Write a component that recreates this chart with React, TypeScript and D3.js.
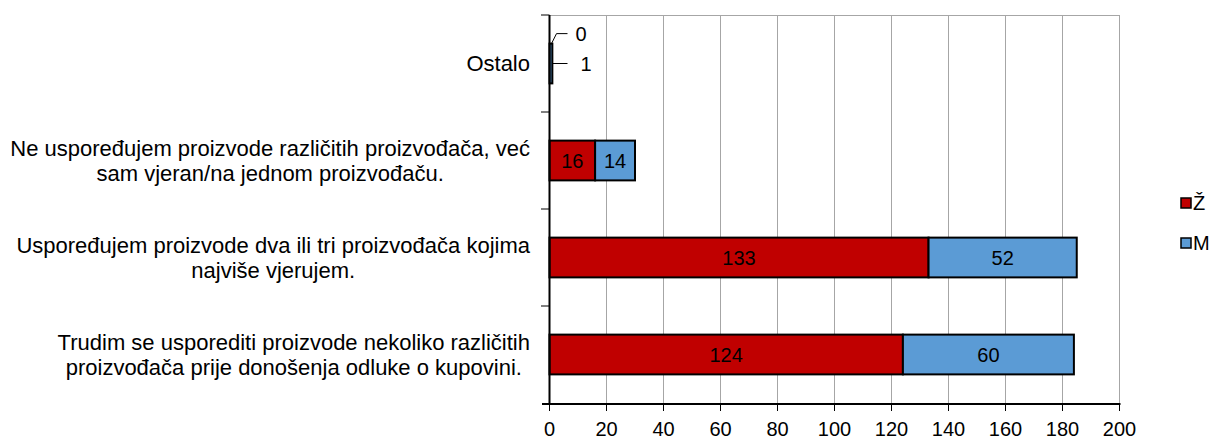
import React, { useEffect, useRef } from "react";
import * as d3 from "d3";

// categories, top to bottom
const categories = ["ostalo", "vjeran", "dvaTri", "nekoliko"];
const categoryLines = [
  ["Ostalo"],
  ["Ne uspoređujem proizvode različitih proizvođača, već", "sam vjeran/na jednom proizvođaču."],
  ["Uspoređujem proizvode dva ili tri proizvođača kojima", "najviše vjerujem."],
  ["Trudim se usporediti proizvode nekoliko različitih", "proizvođača prije donošenja odluke o kupovini."],
];
const zValues = [0, 16, 133, 124];
const mValues = [1, 14, 52, 60];
const seriesNames = ["Ž", "M"];
const xTicks = [0, 20, 40, 60, 80, 100, 120, 140, 160, 180, 200];

const W = 1215;
const H = 439;
const colors = ["#C00000", "#5B9BD5"];
const font = "Arial, 'Liberation Sans', sans-serif";

const App = () => {
  const ref = useRef<SVGSVGElement>(null);

  useEffect(() => {
    const svg = d3.select(ref.current);
    svg.selectAll("*").remove();

    const x = d3.scaleLinear().domain([0, 200]).range([549.5, 1119.5]);
    const y = d3
      .scaleBand()
      .domain(categories)
      .range([15, 403])
      .paddingInner(0.59)
      .paddingOuter(0.295);
    const step = y.step();

    // gridlines
    svg
      .append("g")
      .selectAll("line")
      .data(xTicks.slice(1))
      .join("line")
      .attr("x1", (d) => x(d))
      .attr("x2", (d) => x(d))
      .attr("y1", 15)
      .attr("y2", 403)
      .attr("stroke", "#a6a6a6")
      .attr("stroke-width", 1);

    // top border
    svg
      .append("line")
      .attr("x1", x(0))
      .attr("x2", x(200))
      .attr("y1", 15.5)
      .attr("y2", 15.5)
      .attr("stroke", "#a6a6a6");

    const rows = categories.map((c, i) => ({ c, i, z: zValues[i], m: mValues[i] }));

    // bars
    const g = svg.append("g");
    rows.forEach((r) => {
      const y0 = y(r.c)!;
      const bh = y.bandwidth();
      const segs = [
        { x0: 0, x1: r.z, v: r.z, k: 0 },
        { x0: r.z, x1: r.z + r.m, v: r.m, k: 1 },
      ];
      segs.forEach((s) => {
        if (s.v === 0) return;
        g.append("rect")
          .attr("x", x(s.x0))
          .attr("y", y0)
          .attr("width", x(s.x1) - x(s.x0))
          .attr("height", bh)
          .attr("fill", colors[s.k])
          .attr("stroke", "#000")
          .attr("stroke-width", 2);
      });
      if (r.z + r.m > 10) {
        segs.forEach((s) => {
          g.append("text")
            .attr("x", (x(s.x0) + x(s.x1)) / 2)
            .attr("y", y0 + bh / 2)
            .attr("dy", "0.35em")
            .attr("text-anchor", "middle")
            .attr("font-size", 20)
            .attr("font-family", font)
            .attr("fill", "#000")
            .text(s.v);
        });
      } else {
        // small bar: labels with leader lines
        const zy = y0 - 10;
        const my = y0 + bh / 2;
        g.append("path")
          .attr("d", `M${x(0) + 2},${y0} L${x(0) + 7},${zy} L${x(0) + 18},${zy}`)
          .attr("fill", "none")
          .attr("stroke", "#000")
          .attr("stroke-width", 1);
        g.append("text")
          .attr("x", x(0) + 26)
          .attr("y", zy)
          .attr("dy", "0.35em")
          .attr("font-size", 20)
          .attr("font-family", font)
          .text(r.z);
        g.append("line")
          .attr("x1", x(r.z + r.m))
          .attr("x2", x(0) + 18)
          .attr("y1", my)
          .attr("y2", my)
          .attr("stroke", "#000");
        g.append("text")
          .attr("x", x(0) + 31)
          .attr("y", my)
          .attr("dy", "0.35em")
          .attr("font-size", 20)
          .attr("font-family", font)
          .text(r.m);
      }
    });

    // axes
    svg
      .append("line")
      .attr("x1", x(0))
      .attr("x2", x(0))
      .attr("y1", 15)
      .attr("y2", 404)
      .attr("stroke", "#000")
      .attr("stroke-width", 2);
    svg
      .append("line")
      .attr("x1", 542)
      .attr("x2", x(200) + 1)
      .attr("y1", 404)
      .attr("y2", 404)
      .attr("stroke", "#000")
      .attr("stroke-width", 2);

    // y ticks at band boundaries
    svg
      .append("g")
      .selectAll("line")
      .data(categories)
      .join("line")
      .attr("x1", 541)
      .attr("x2", x(0))
      .attr("y1", (d) => y(d)! - (step * 0.59) / 2)
      .attr("y2", (d) => y(d)! - (step * 0.59) / 2)
      .attr("stroke", "#000")
      .attr("stroke-width", 1);

    // x ticks + labels
    const xt = svg.append("g");
    xt.selectAll("line")
      .data(xTicks)
      .join("line")
      .attr("x1", (d) => x(d))
      .attr("x2", (d) => x(d))
      .attr("y1", 404)
      .attr("y2", 411)
      .attr("stroke", "#000");
    xt.selectAll("text")
      .data(xTicks)
      .join("text")
      .attr("x", (d) => x(d))
      .attr("y", 436)
      .attr("text-anchor", "middle")
      .attr("font-size", 20)
      .attr("font-family", font)
      .text((d) => d);

    // category labels: block right-aligned, lines centered in block
    const rightEdge = 530;
    categoryLines.forEach((lines, i) => {
      const cy = y(categories[i])! + y.bandwidth() / 2;
      const lh = 25;
      const grp = svg.append("g");
      const texts = lines.map((l, j) =>
        grp
          .append("text")
          .attr("y", cy + (j - (lines.length - 1) / 2) * lh)
          .attr("dy", "0.35em")
          .attr("text-anchor", "middle")
          .attr("font-size", 22)
          .attr("font-family", font)
          .text(l)
      );
      const widths = texts.map((t) => (t.node() as SVGTextElement).getComputedTextLength());
      const maxW = d3.max(widths) || 0;
      texts.forEach((t) => t.attr("x", rightEdge - maxW / 2));
    });

    // legend
    const lg = svg.append("g");
    seriesNames.forEach((n, i) => {
      const ly = 203 + i * 40;
      lg.append("rect")
        .attr("x", 1181)
        .attr("y", ly - 5)
        .attr("width", 10)
        .attr("height", 10)
        .attr("fill", colors[i])
        .attr("stroke", "#000")
        .attr("stroke-width", 1.5);
      lg.append("text")
        .attr("x", 1193)
        .attr("y", ly)
        .attr("dy", "0.35em")
        .attr("font-size", 20)
        .attr("font-family", font)
        .text(n);
    });
  }, []);

  return (
    <svg
      ref={ref}
      width={W}
      height={H}
      style={{ position: "absolute", left: 0, top: 0, background: "#fff" }}
    />
  );
};

export default App;
